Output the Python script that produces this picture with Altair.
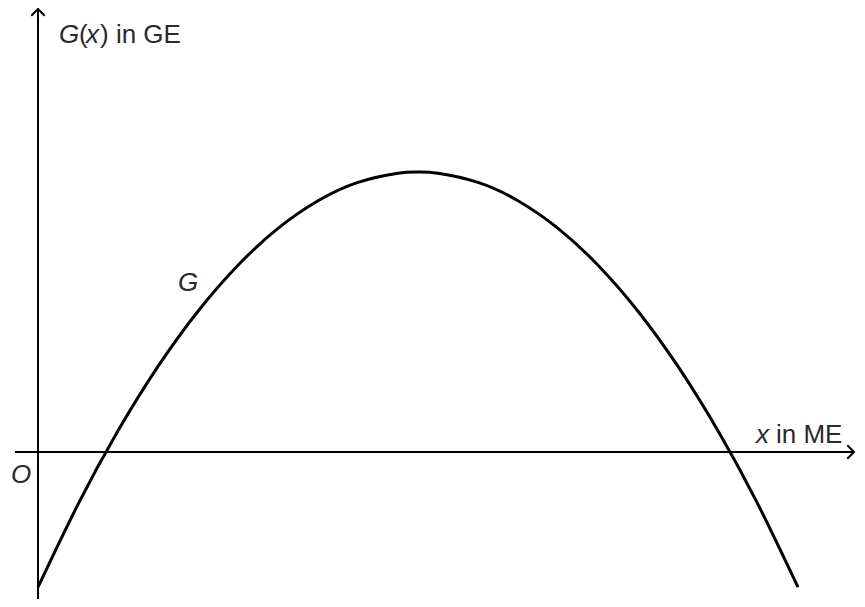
import altair as alt
import pandas as pd

# Curve G (units: 1 unit = 40 px)
xs = [0, 1, 2, 3, 4, 5, 6, 7, 8, 9, 9.5, 10, 11, 12, 13, 14, 15, 16, 17, 18, 19]
gs = [-3.38, -1.31, 0.53, 2.14, 3.52, 4.67, 5.59, 6.28, 6.74, 6.97, 7.0, 6.97,
      6.74, 6.28, 5.59, 4.67, 3.52, 2.14, 0.53, -1.31, -3.38]

# axis extents
x_axis_x = [-0.575, 20.4]
y_axis_y = [-3.675, 11.075]

# labels
lab_text = ["G", "(", "x", ") in GE", "x", "in ME", "O", "G"]
lab_x = [0.525, 1.025, 1.2, 1.55, 17.95, 18.45, -0.425, 3.75]
lab_y = [10.225, 10.225, 10.225, 10.225, 0.225, 0.225, -0.5625, 4.225]
lab_style = ["italic", "normal", "italic", "normal", "italic", "normal", "italic", "italic"]
lab_align = ["left", "left", "left", "left", "left", "left", "center", "center"]
lab_base = ["alphabetic"] * 6 + ["middle", "middle"]

XD = [-0.75, 20.475]
YD = [-3.675, 11.1]
xsc = alt.Scale(domain=XD, nice=False, zero=False)
ysc = alt.Scale(domain=YD, nice=False, zero=False)

curve_df = pd.DataFrame({"x": xs, "g": gs})
curve = alt.Chart(curve_df).mark_line(color="black", strokeWidth=3, interpolate="natural").encode(
    x=alt.X("x:Q", scale=xsc, axis=None),
    y=alt.Y("g:Q", scale=ysc, axis=None),
)

xa_df = pd.DataFrame({"x": [x_axis_x[0]], "x2": [x_axis_x[1]], "y": [0]})
xaxis = alt.Chart(xa_df).mark_rule(color="black", strokeWidth=2).encode(
    x=alt.X("x:Q", scale=xsc, axis=None), x2="x2:Q", y=alt.Y("y:Q", scale=ysc, axis=None)
)
ya_df = pd.DataFrame({"y": [y_axis_y[0]], "y2": [y_axis_y[1]], "x": [0]})
yaxis = alt.Chart(ya_df).mark_rule(color="black", strokeWidth=2).encode(
    y=alt.Y("y:Q", scale=ysc, axis=None), y2="y2:Q", x=alt.X("x:Q", scale=xsc, axis=None)
)

arrow_r = alt.Chart(pd.DataFrame({"x": [x_axis_x[1]], "y": [0]})).mark_point(
    shape="M-1,-1L0,0L-1,1", size=180, filled=False, color="black", strokeWidth=2, opacity=1
).encode(x=alt.X("x:Q", scale=xsc, axis=None), y=alt.Y("y:Q", scale=ysc, axis=None))
arrow_u = alt.Chart(pd.DataFrame({"x": [0], "y": [y_axis_y[1]]})).mark_point(
    shape="M-1,1L0,0L1,1", size=180, filled=False, color="black", strokeWidth=2, opacity=1
).encode(x=alt.X("x:Q", scale=xsc, axis=None), y=alt.Y("y:Q", scale=ysc, axis=None))

layers = [curve, xaxis, yaxis, arrow_r, arrow_u]
for t, x, y, st, al, bl in zip(lab_text, lab_x, lab_y, lab_style, lab_align, lab_base):
    df = pd.DataFrame({"t": [t], "x": [x], "y": [y]})
    layers.append(
        alt.Chart(df).mark_text(font="Liberation Sans", fontSize=26, fontStyle=st, align=al,
                                baseline=bl, color="#2a2a2a").encode(
            x=alt.X("x:Q", scale=xsc, axis=None), y=alt.Y("y:Q", scale=ysc, axis=None), text="t:N"
        )
    )

chart = alt.layer(*layers).properties(
    width=849, height=591, padding=0, autosize=alt.AutoSizeParams(type="none")
).configure_view(stroke=None)

chart.save("out.html", embed_options={"renderer": "svg", "actions": False})
